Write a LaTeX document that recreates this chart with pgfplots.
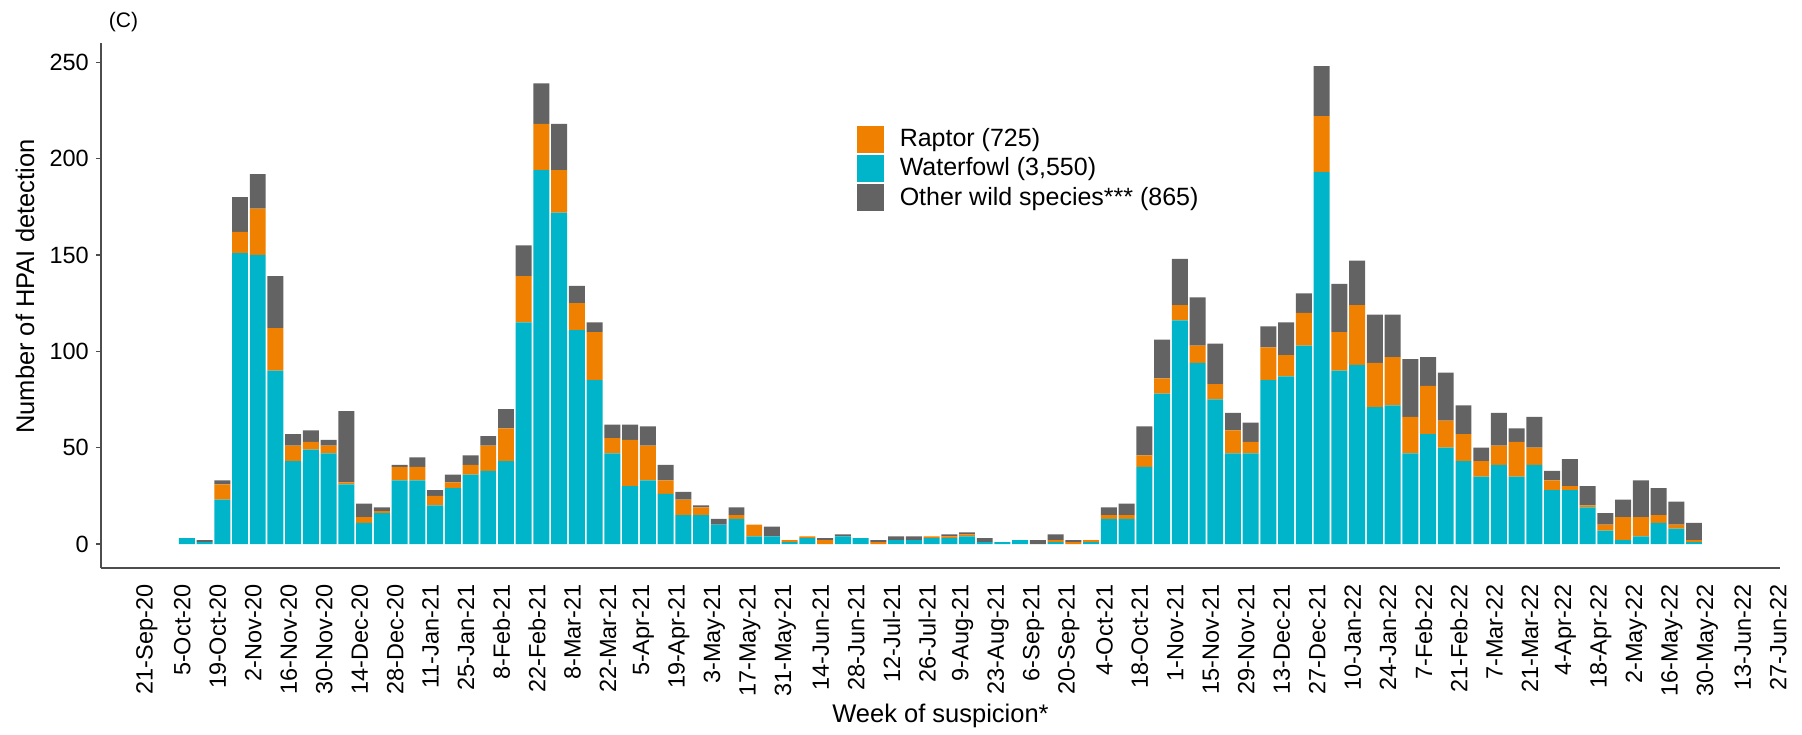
\documentclass[border=0pt]{standalone}
\usepackage{pgfplots}
\pgfplotsset{compat=1.18}
\usepackage{pgfplotstable}
\usepackage{fontspec}
\setmainfont{Liberation Sans}
\definecolor{cW}{HTML}{00B5CA}
\definecolor{cR}{HTML}{F08000}
\definecolor{cO}{HTML}{636363}
\definecolor{axc}{HTML}{4D4D4D}

\pgfplotstableread{
w W R O
2 3 0 0
3 1 0 1
4 23 8 2
5 151 11 18
6 150 24 18
7 90 22 27
8 43 8 6
9 49 4 6
10 47 4 3
11 31 1 37
12 11 3 7
13 16 1 2
14 33 7 1
15 33 7 5
16 20 5 3
17 29 3 4
18 36 5 5
19 38 13 5
20 43 17 10
21 115 24 16
22 194 24 21
23 172 22 24
24 111 14 9
25 85 25 5
26 47 8 7
27 30 24 8
28 33 18 10
29 26 7 8
30 15 8 4
31 15 4 1
32 10 0 3
33 13 2 4
34 4 6 0
35 4 0 5
36 1 1 0
37 3 1 0
38 0 2 1
39 4 0 1
40 3 0 0
41 0 1 1
42 2 0 2
43 2 0 2
44 3 1 0
45 3 1 1
46 4 1 1
47 1 0 2
48 1 0 0
49 2 0 0
50 0 0 2
51 1 1 3
52 0 1 1
53 1 1 0
54 13 2 4
55 13 2 6
56 40 6 15
57 78 8 20
58 116 8 24
59 94 9 25
60 75 8 21
61 47 12 9
62 47 6 10
63 85 17 11
64 87 11 17
65 103 17 10
66 193 29 26
67 90 20 25
68 93 31 23
69 71 23 25
70 72 25 22
71 47 19 30
72 57 25 15
73 50 14 25
74 43 14 15
75 35 8 7
76 41 10 17
77 35 18 7
78 41 9 16
79 28 5 5
80 28 2 14
81 19 1 10
82 7 3 6
83 2 12 9
84 4 10 19
85 11 4 14
86 8 2 12
87 1 1 9
}\data

\begin{document}
\begin{tikzpicture}
\useasboundingbox (0,0) rectangle (720.8pt,294pt);
\begin{axis}[
  at={(40.4pt,66.8pt)}, anchor=south west,
  scale only axis, width=671.6pt, height=210pt,
  xmin=-2.59, xmax=92.1, ymin=-12.45, ymax=260,
  axis lines=left,
  axis line style={-, draw=axc, line width=0.9pt},
  ybar stacked, bar width=0.9,
  xtick={0,2,...,92},
  xticklabels={21-Sep-20,5-Oct-20,19-Oct-20,2-Nov-20,16-Nov-20,30-Nov-20,14-Dec-20,28-Dec-20,11-Jan-21,25-Jan-21,8-Feb-21,22-Feb-21,8-Mar-21,22-Mar-21,5-Apr-21,19-Apr-21,3-May-21,17-May-21,31-May-21,14-Jun-21,28-Jun-21,12-Jul-21,26-Jul-21,9-Aug-21,23-Aug-21,6-Sep-21,20-Sep-21,4-Oct-21,18-Oct-21,1-Nov-21,15-Nov-21,29-Nov-21,13-Dec-21,27-Dec-21,10-Jan-22,24-Jan-22,7-Feb-22,21-Feb-22,7-Mar-22,21-Mar-22,4-Apr-22,18-Apr-22,2-May-22,16-May-22,30-May-22,13-Jun-22,27-Jun-22},
  ytick={0,50,...,250},
  xtick align=inside, ytick align=outside,
  major tick length=2pt,
  xtick style={draw=none},
  ytick style={draw=axc, line width=0.6pt},
  x tick label style={rotate=90, anchor=east, inner sep=0pt, font=\fontsize{9.4}{11}\selectfont},
  xticklabel shift=6.4pt,
  y tick label style={inner sep=0pt, font=\fontsize{9.4}{11}\selectfont},
  yticklabel shift=2.7pt,
  /pgf/number format/assume math mode=true,
  xlabel={Week of suspicion*},
  xlabel style={at={(axis description cs:0.5,-0.282)}, anchor=center, font=\fontsize{10.2}{12}\selectfont},
  ylabel={Number of HPAI detection},
  ylabel style={at={(axis description cs:-0.0453,0.536)}, anchor=center, font=\fontsize{10.2}{12}\selectfont},
  title={(C)},
  title style={at={(axis description cs:0.0134,1.039)}, anchor=center, yshift=-6pt, font=\fontsize{8.4}{10}\selectfont},
  legend style={at={(axis description cs:0.450,0.842)}, anchor=north west, draw=none, fill=none,
    inner sep=0pt, outer sep=0pt, row sep=0.9pt, column sep=6.5pt,
    font=\fontsize{10}{12}\selectfont, nodes={inner sep=0pt, anchor=west}},
  legend cell align=left,
]
\addplot[forget plot, fill=cW, draw=none] table[x expr=\thisrow{w}+0.25, y=W]{\data};
\addplot[forget plot, fill=cR, draw=none] table[x expr=\thisrow{w}+0.25, y=R]{\data};
\addplot[forget plot, fill=cO, draw=none] table[x expr=\thisrow{w}+0.25, y=O]{\data};
\addlegendimage{legend image code/.code={\fill[cR] (0pt,-5.2pt) rectangle (10.4pt,5.2pt);}}
\addlegendentry{Raptor (725)}
\addlegendimage{legend image code/.code={\fill[cW] (0pt,-5.2pt) rectangle (10.4pt,5.2pt);}}
\addlegendentry{Waterfowl (3,550)}
\addlegendimage{legend image code/.code={\fill[cO] (0pt,-5.2pt) rectangle (10.4pt,5.2pt);}}
\addlegendentry{Other wild species*** (865)}
\end{axis}
\end{tikzpicture}
\end{document}
